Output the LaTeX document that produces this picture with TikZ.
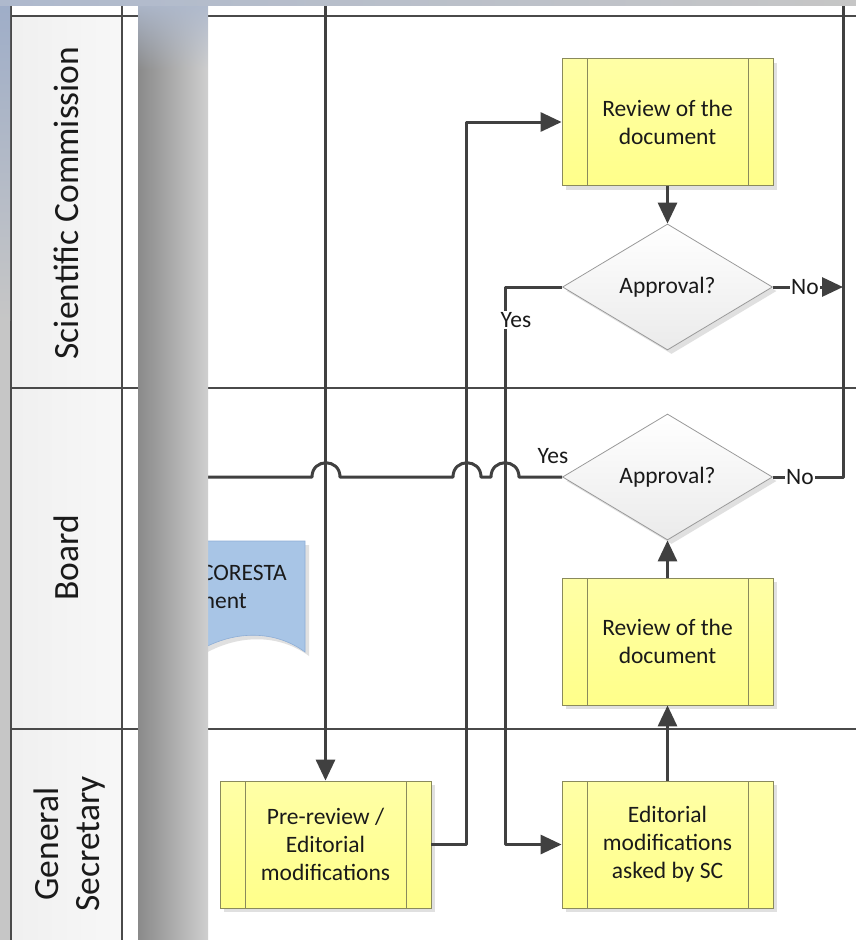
\documentclass[tikz,border=0pt]{standalone}
\usepackage{fontspec}
\setmainfont{Carlito}
\usetikzlibrary{arrows.meta,shapes.geometric,shadows,fadings}

\definecolor{conncol}{HTML}{404040}
\definecolor{lanecol}{HTML}{4A4A4A}
\definecolor{boxedge}{HTML}{8A8A5C}
\definecolor{boxtop}{HTML}{FFFFA6}
\definecolor{boxbot}{HTML}{FFFF8A}
\definecolor{diaedge}{HTML}{9A9A9A}
\definecolor{docfill}{HTML}{A8C5E6}
\definecolor{docedge}{HTML}{8EAED6}
\definecolor{chromeblue}{HTML}{AEB9CD}
\definecolor{chromeside}{HTML}{9EADC8}
\definecolor{chromegray}{HTML}{C6C6C6}
\definecolor{txtcol}{HTML}{1A1A1A}

\newcommand\boxfont{\fontsize{23.5}{28}\selectfont}
\newcommand\lanefont{\fontsize{35.5}{41}\selectfont}

\begin{document}
\begin{tikzpicture}[x=1pt,y=-1pt,
  conn/.style={draw=conncol,line width=3pt,line join=round},
  arr/.style={-{Triangle[length=21pt,width=19pt]}},
  lane/.style={draw=lanecol,line width=2.2pt},
  shade3/.style={drop shadow={shadow xshift=4pt,shadow yshift=-4pt,fill=black!12,opacity=1}},
  proc/.style={rectangle,draw=boxedge,line width=0.8pt,top color=boxtop,bottom color=boxbot,
    minimum width=211pt,minimum height=127pt,inner sep=0pt,align=center,
    font=\boxfont,text=txtcol,shade3,
    path picture={\draw[boxedge,line width=0.8pt]
      ([xshift=25pt]path picture bounding box.north west) -- ([xshift=25pt]path picture bounding box.south west)
      ([xshift=-25pt]path picture bounding box.north east) -- ([xshift=-25pt]path picture bounding box.south east);}},
  decision/.style={diamond,aspect=1.667,minimum width=210pt,minimum height=126pt,inner sep=0pt,
    draw=diaedge,line width=0.8pt,top color=white,bottom color=black!8,
    font=\boxfont,text=txtcol,shade3},
  lbl/.style={font=\boxfont,text=txtcol,inner sep=1pt},
  lanelabel/.style={font=\lanefont,text=txtcol,rotate=90,align=center,inner sep=0pt}]

\useasboundingbox (0,0) rectangle (856,940);
\fill[white] (0,0) rectangle (856,940);

% swimlane frame
\shade[left color=black!6,right color=black!3] (11,16) rectangle (122,940);
\draw[lane] (11,16) -- (856,16);
\draw[lane] (11,388) -- (856,388);
\draw[lane] (11,729) -- (856,729);
\draw[lane] (11,5) -- (11,940);
\draw[lane] (122,5) -- (122,940);

\node[lanelabel] (lSC) at (66,203) {Scientific Commission};
\node[lanelabel] (lB) at (66,558) {Board};
\node[lanelabel] (lGS) at (70,844) {General\\Secretary};

% document shape in the Board lane
\path[fill=docfill,draw=docedge,line width=0.6pt,shade3]
  (150,541) -- (305,541) -- (305,652) .. controls (275,630) and (235,630) .. (200,650) -- (150,664) -- cycle;
\node[lbl,anchor=base east] (docA) at (288,580) {CORESTA};
\node[lbl,anchor=base east] (docB) at (248,608) {ment};

% process boxes and decisions
\node[proc] (rev1) at (667.5,122) {Review of the\\document};
\node[decision] (dia1) at (667.5,287) {Approval?};
\node[decision] (dia2) at (667.5,477) {Approval?};
\node[proc] (rev2) at (667.5,641.5) {Review of the\\document};
\node[proc] (pre) at (325.5,844.5) {Pre-review /\\Editorial\\modifications};
\node[proc] (edit) at (667.5,844.5) {Editorial\\modifications\\asked by SC};

% connector end points
\coordinate (topIn) at (325.5,0);
\coordinate (rline) at (843,0);
\coordinate (ySC) at (505,287);
\coordinate (bEnd) at (208,477);

% connectors
\draw[conn,arr] (topIn) -- (pre.north);
\draw[conn,arr] (pre.east) -- ++(35,0) |- (rev1.west);
\draw[conn,arr] (rev1.south) -- (dia1.north);
\draw[conn,arr] (dia1.west) -- (ySC) |- (edit.west);
\draw[conn,arr] (dia1.east) -- (dia1.east -| rline);
\draw[conn] (dia2.east) -- (dia2.east -| rline) -- (rline);
\draw[conn,arr] (edit.north) -- (rev2.south);
\draw[conn,arr] (rev2.north) -- (dia2.south);
\draw[conn] (dia2.west) -- (519,477)
  .. controls (519,458) and (491,458) .. (491,477) -- (481,477)
  .. controls (481,458) and (453,458) .. (453,477) -- (340,477)
  .. controls (340,458) and (312,458) .. (312,477) -- (bEnd);

% connector labels
\node[lbl,fill=white] (yes1) at (516,320) {Yes};
\node[lbl,fill=white] (no1) at (805,287) {No};
\node[lbl,fill=white] (no2) at (800,477) {No};
\node[lbl] (yes2) at (553,456) {Yes};

% window chrome around the page
\shade[left color=black!46,right color=black!19] (138,0) rectangle (208,940);
\fill[chromeblue,path fading=south] (138,0) rectangle (208,70);
\fill[chromegray] (0,0) rectangle (10,940);
\shade[top color=chromeside,bottom color=chromegray] (0,0) rectangle (10,320);
\shade[left color=chromeblue,right color=chromegray] (0,0) rectangle (856,5);
\end{tikzpicture}
\end{document}
